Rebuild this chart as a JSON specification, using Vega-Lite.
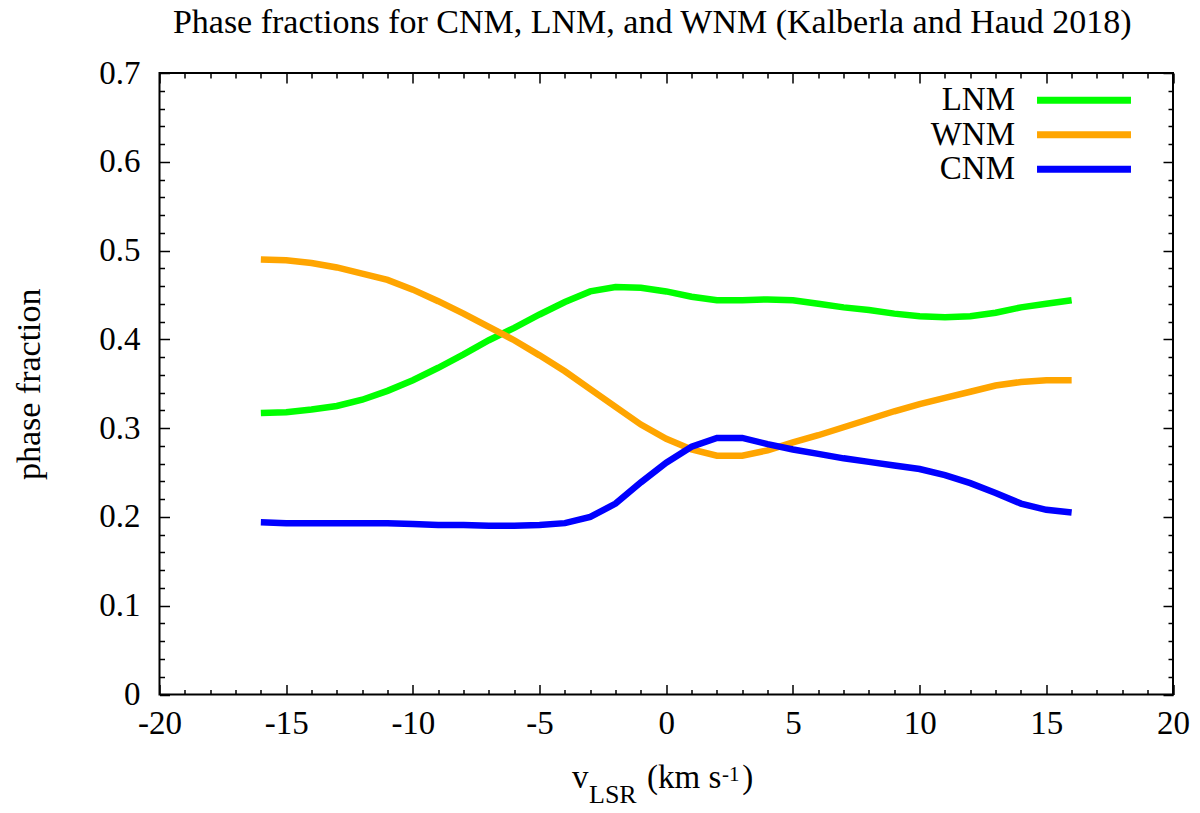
{
  "$schema": "https://vega.github.io/schema/vega-lite/v6.json",
  "autosize": {"type": "none"},
  "padding": {"left": 159.5, "top": 73, "right": 27, "bottom": 118.5},
  "width": 1013.5,
  "height": 621.5,
  "background": "white",
  "config": {
    "view": {"stroke": "black", "strokeWidth": 2},
    "font": "Liberation Serif"
  },
  "title": {
    "text": "Phase fractions for CNM, LNM, and WNM (Kalberla and Haud 2018)",
    "font": "Liberation Serif",
    "fontSize": 34,
    "fontWeight": "normal",
    "color": "black",
    "anchor": "middle",
    "frame": "group",
    "baseline": "bottom",
    "offset": 31,
    "dx": -14,
    "dy": 48
  },
  "data": {
    "values": [
      {"v": -16, "phase": "LNM", "f": 0.317}, {"v": -15, "phase": "LNM", "f": 0.318}, {"v": -14, "phase": "LNM", "f": 0.321}, {"v": -13, "phase": "LNM", "f": 0.325}, {"v": -12, "phase": "LNM", "f": 0.332}, {"v": -11, "phase": "LNM", "f": 0.342}, {"v": -10, "phase": "LNM", "f": 0.354}, {"v": -9, "phase": "LNM", "f": 0.368}, {"v": -8, "phase": "LNM", "f": 0.383}, {"v": -7, "phase": "LNM", "f": 0.399}, {"v": -6, "phase": "LNM", "f": 0.413}, {"v": -5, "phase": "LNM", "f": 0.428}, {"v": -4, "phase": "LNM", "f": 0.442}, {"v": -3, "phase": "LNM", "f": 0.454}, {"v": -2, "phase": "LNM", "f": 0.459}, {"v": -1, "phase": "LNM", "f": 0.458}, {"v": 0, "phase": "LNM", "f": 0.454}, {"v": 1, "phase": "LNM", "f": 0.448}, {"v": 2, "phase": "LNM", "f": 0.444}, {"v": 3, "phase": "LNM", "f": 0.444}, {"v": 4, "phase": "LNM", "f": 0.445}, {"v": 5, "phase": "LNM", "f": 0.444}, {"v": 6, "phase": "LNM", "f": 0.440}, {"v": 7, "phase": "LNM", "f": 0.436}, {"v": 8, "phase": "LNM", "f": 0.433}, {"v": 9, "phase": "LNM", "f": 0.429}, {"v": 10, "phase": "LNM", "f": 0.426}, {"v": 11, "phase": "LNM", "f": 0.425}, {"v": 12, "phase": "LNM", "f": 0.426}, {"v": 13, "phase": "LNM", "f": 0.430}, {"v": 14, "phase": "LNM", "f": 0.436}, {"v": 15, "phase": "LNM", "f": 0.440}, {"v": 16, "phase": "LNM", "f": 0.444},
      {"v": -16, "phase": "WNM", "f": 0.490}, {"v": -15, "phase": "WNM", "f": 0.489}, {"v": -14, "phase": "WNM", "f": 0.486}, {"v": -13, "phase": "WNM", "f": 0.481}, {"v": -12, "phase": "WNM", "f": 0.474}, {"v": -11, "phase": "WNM", "f": 0.467}, {"v": -10, "phase": "WNM", "f": 0.456}, {"v": -9, "phase": "WNM", "f": 0.443}, {"v": -8, "phase": "WNM", "f": 0.429}, {"v": -7, "phase": "WNM", "f": 0.414}, {"v": -6, "phase": "WNM", "f": 0.399}, {"v": -5, "phase": "WNM", "f": 0.382}, {"v": -4, "phase": "WNM", "f": 0.364}, {"v": -3, "phase": "WNM", "f": 0.344}, {"v": -2, "phase": "WNM", "f": 0.324}, {"v": -1, "phase": "WNM", "f": 0.304}, {"v": 0, "phase": "WNM", "f": 0.288}, {"v": 1, "phase": "WNM", "f": 0.276}, {"v": 2, "phase": "WNM", "f": 0.269}, {"v": 3, "phase": "WNM", "f": 0.269}, {"v": 4, "phase": "WNM", "f": 0.275}, {"v": 5, "phase": "WNM", "f": 0.284}, {"v": 6, "phase": "WNM", "f": 0.292}, {"v": 7, "phase": "WNM", "f": 0.301}, {"v": 8, "phase": "WNM", "f": 0.310}, {"v": 9, "phase": "WNM", "f": 0.319}, {"v": 10, "phase": "WNM", "f": 0.327}, {"v": 11, "phase": "WNM", "f": 0.334}, {"v": 12, "phase": "WNM", "f": 0.341}, {"v": 13, "phase": "WNM", "f": 0.348}, {"v": 14, "phase": "WNM", "f": 0.352}, {"v": 15, "phase": "WNM", "f": 0.354}, {"v": 16, "phase": "WNM", "f": 0.354},
      {"v": -16, "phase": "CNM", "f": 0.194}, {"v": -15, "phase": "CNM", "f": 0.193}, {"v": -14, "phase": "CNM", "f": 0.193}, {"v": -13, "phase": "CNM", "f": 0.193}, {"v": -12, "phase": "CNM", "f": 0.193}, {"v": -11, "phase": "CNM", "f": 0.193}, {"v": -10, "phase": "CNM", "f": 0.192}, {"v": -9, "phase": "CNM", "f": 0.191}, {"v": -8, "phase": "CNM", "f": 0.191}, {"v": -7, "phase": "CNM", "f": 0.190}, {"v": -6, "phase": "CNM", "f": 0.190}, {"v": -5, "phase": "CNM", "f": 0.191}, {"v": -4, "phase": "CNM", "f": 0.193}, {"v": -3, "phase": "CNM", "f": 0.200}, {"v": -2, "phase": "CNM", "f": 0.215}, {"v": -1, "phase": "CNM", "f": 0.239}, {"v": 0, "phase": "CNM", "f": 0.261}, {"v": 1, "phase": "CNM", "f": 0.279}, {"v": 2, "phase": "CNM", "f": 0.289}, {"v": 3, "phase": "CNM", "f": 0.289}, {"v": 4, "phase": "CNM", "f": 0.282}, {"v": 5, "phase": "CNM", "f": 0.276}, {"v": 6, "phase": "CNM", "f": 0.271}, {"v": 7, "phase": "CNM", "f": 0.266}, {"v": 8, "phase": "CNM", "f": 0.262}, {"v": 9, "phase": "CNM", "f": 0.258}, {"v": 10, "phase": "CNM", "f": 0.254}, {"v": 11, "phase": "CNM", "f": 0.247}, {"v": 12, "phase": "CNM", "f": 0.238}, {"v": 13, "phase": "CNM", "f": 0.227}, {"v": 14, "phase": "CNM", "f": 0.215}, {"v": 15, "phase": "CNM", "f": 0.208}, {"v": 16, "phase": "CNM", "f": 0.205}
    ]
  },
  "resolve": {"axis": {"x": "independent", "y": "independent"}},
  "layer": [
    {
      "mark": {"type": "line", "strokeWidth": 6.5, "clip": true},
      "encoding": {
        "x": {
          "field": "v", "type": "quantitative",
          "scale": {"domain": [-20, 20], "nice": false, "zero": false},
          "axis": {
            "orient": "bottom",
            "values": [-20,-19,-18,-17,-16,-15,-14,-13,-12,-11,-10,-9,-8,-7,-6,-5,-4,-3,-2,-1,0,1,2,3,4,5,6,7,8,9,10,11,12,13,14,15,16,17,18,19,20],
            "domain": false, "grid": false, "title": null,
            "labelExpr": "datum.value % 5 == 0 ? '' + datum.value : ''",
            "labelFont": "Liberation Serif", "labelFontSize": 33, "labelColor": "black",
            "labelPadding": 23, "labelOverlap": false, "labelFlush": false, "labelBound": false,
            "tickSize": {"condition": {"test": "datum.value % 5 == 0", "value": -10}, "value": -5},
            "tickColor": "black", "tickWidth": 1.5
          }
        },
        "y": {
          "field": "f", "type": "quantitative",
          "scale": {"domain": [0, 0.7], "nice": false, "zero": false},
          "axis": {
            "orient": "left",
            "values": [0,0.02,0.04,0.06,0.08,0.1,0.12,0.14,0.16,0.18,0.2,0.22,0.24,0.26,0.28,0.3,0.32,0.34,0.36,0.38,0.4,0.42,0.44,0.46,0.48,0.5,0.52,0.54,0.56,0.58,0.6,0.62,0.64,0.66,0.68,0.7],
            "domain": false, "grid": false,
            "title": "phase fraction",
            "titleFont": "Liberation Serif", "titleFontSize": 34, "titleFontWeight": "normal", "titleColor": "black",
            "titlePadding": 52,
            "labelExpr": "abs(datum.value*10 - round(datum.value*10)) < 0.001 ? (datum.value == 0 ? '0' : format(datum.value, '.1f')) : ''",
            "labelFont": "Liberation Serif", "labelFontSize": 33, "labelColor": "black",
            "labelPadding": 29.5, "labelOverlap": false, "labelFlush": false, "labelBound": false,
            "tickSize": {"condition": {"test": "abs(datum.value*10 - round(datum.value*10)) < 0.001", "value": -10}, "value": -5},
            "tickColor": "black", "tickWidth": 1.5
          }
        },
        "color": {
          "field": "phase", "type": "nominal",
          "scale": {"domain": ["LNM", "WNM", "CNM"], "range": ["#00ff00", "#ffa500", "#0000ff"]},
          "legend": {
            "orient": "none", "legendX": 907.5, "legendY": 10.3,
            "title": null, "padding": 0,
            "symbolType": "M-3.48,0H3.48", "symbolSize": 729, "symbolStrokeWidth": 7,
            "labelAlign": "right", "labelOffset": -86,
            "labelFont": "Liberation Serif", "labelFontSize": 33, "labelColor": "black",
            "rowPadding": 0.5, "labelLimit": 0
          }
        }
      }
    },
    {
      "data": {"values": [{}]},
      "mark": {"type": "text", "text": "v", "align": "left", "baseline": "alphabetic", "font": "Liberation Serif", "fontSize": 33, "color": "black"},
      "encoding": {
        "x": {
          "datum": -3.72, "type": "quantitative",
          "scale": {"domain": [-20, 20], "nice": false, "zero": false},
          "axis": {
            "orient": "top",
            "values": [-20,-19,-18,-17,-16,-15,-14,-13,-12,-11,-10,-9,-8,-7,-6,-5,-4,-3,-2,-1,0,1,2,3,4,5,6,7,8,9,10,11,12,13,14,15,16,17,18,19,20],
            "domain": false, "grid": false, "title": null, "labels": false,
            "minExtent": 0, "maxExtent": 0,
            "tickSize": {"condition": {"test": "datum.value % 5 == 0", "value": -10}, "value": -5},
            "tickColor": "black", "tickWidth": 1.5
          }
        },
        "y": {
          "datum": -0.1053, "type": "quantitative",
          "scale": {"domain": [0, 0.7], "nice": false, "zero": false},
          "axis": {
            "orient": "right",
            "values": [0,0.02,0.04,0.06,0.08,0.1,0.12,0.14,0.16,0.18,0.2,0.22,0.24,0.26,0.28,0.3,0.32,0.34,0.36,0.38,0.4,0.42,0.44,0.46,0.48,0.5,0.52,0.54,0.56,0.58,0.6,0.62,0.64,0.66,0.68,0.7],
            "domain": false, "grid": false, "title": null, "labels": false,
            "minExtent": 0, "maxExtent": 0,
            "tickSize": {"condition": {"test": "abs(datum.value*10 - round(datum.value*10)) < 0.001", "value": -10}, "value": -5},
            "tickColor": "black", "tickWidth": 1.5
          }
        }
      }
    },
    {
      "data": {"values": [{}]},
      "mark": {"type": "text", "text": "LSR", "align": "left", "baseline": "alphabetic", "font": "Liberation Serif", "fontSize": 26, "color": "black"},
      "encoding": {
        "x": {"datum": -3.049, "type": "quantitative", "scale": {"domain": [-20, 20], "nice": false, "zero": false}, "axis": null},
        "y": {"datum": -0.1222, "type": "quantitative", "scale": {"domain": [0, 0.7], "nice": false, "zero": false}, "axis": null}
      }
    },
    {
      "data": {"values": [{}]},
      "mark": {"type": "text", "text": "(km s", "align": "left", "baseline": "alphabetic", "font": "Liberation Serif", "fontSize": 33, "color": "black"},
      "encoding": {
        "x": {"datum": -0.76, "type": "quantitative", "scale": {"domain": [-20, 20], "nice": false, "zero": false}, "axis": null},
        "y": {"datum": -0.1053, "type": "quantitative", "scale": {"domain": [0, 0.7], "nice": false, "zero": false}, "axis": null}
      }
    },
    {
      "data": {"values": [{}]},
      "mark": {"type": "text", "text": "-1", "align": "left", "baseline": "alphabetic", "font": "Liberation Serif", "fontSize": 21, "color": "black"},
      "encoding": {
        "x": {"datum": 2.2, "type": "quantitative", "scale": {"domain": [-20, 20], "nice": false, "zero": false}, "axis": null},
        "y": {"datum": -0.0975, "type": "quantitative", "scale": {"domain": [0, 0.7], "nice": false, "zero": false}, "axis": null}
      }
    },
    {
      "data": {"values": [{}]},
      "mark": {"type": "text", "text": ")", "align": "left", "baseline": "alphabetic", "font": "Liberation Serif", "fontSize": 33, "color": "black"},
      "encoding": {
        "x": {"datum": 3.0, "type": "quantitative", "scale": {"domain": [-20, 20], "nice": false, "zero": false}, "axis": null},
        "y": {"datum": -0.1053, "type": "quantitative", "scale": {"domain": [0, 0.7], "nice": false, "zero": false}, "axis": null}
      }
    }
  ]
}
